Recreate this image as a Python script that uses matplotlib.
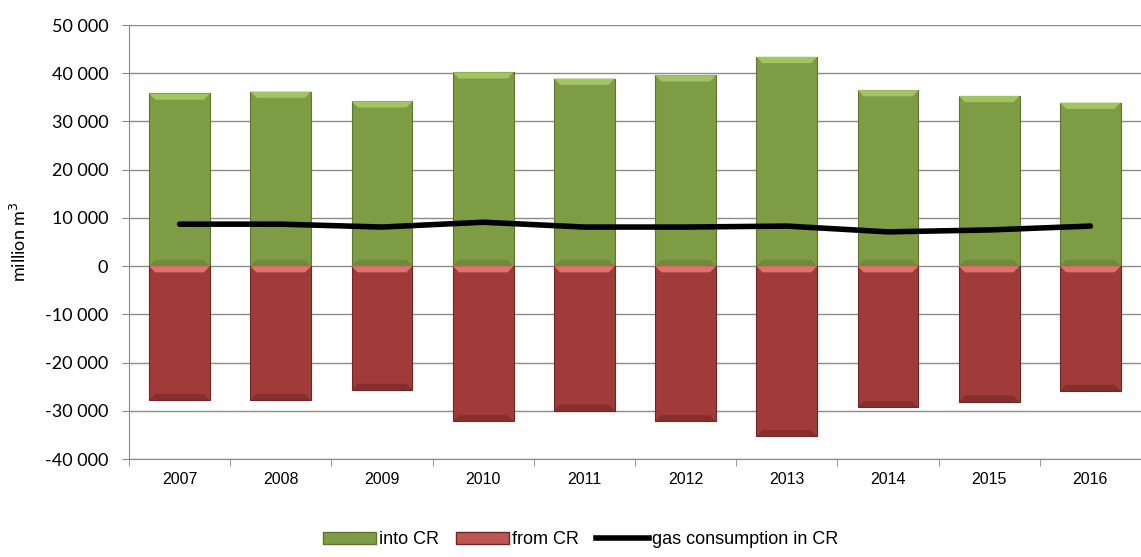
import matplotlib
matplotlib.use("Agg")
import matplotlib.pyplot as plt
from matplotlib.patches import Polygon, Patch
from matplotlib.lines import Line2D
import numpy as np

years = ["2007", "2008", "2009", "2010", "2011", "2012", "2013", "2014", "2015", "2016"]
into_cr = [35800, 36200, 34200, 40200, 38900, 39600, 43400, 36500, 35300, 33900]
from_cr = [-27800, -27800, -25700, -32200, -30000, -32200, -35300, -29300, -28200, -25900]
consumption = [8700, 8700, 8100, 9100, 8100, 8100, 8300, 7100, 7500, 8300]

GREEN = "#7E9C43"
RED = "#A03B3A"
NARROW = ["Liberation Sans Narrow", "Liberation Sans", "DejaVu Sans"]
YFONT = ["Lato", "DejaVu Sans"]


def bevel(ax, rects, light, dark):
    """Add a light strip on top and dark strip at bottom of each bar."""
    for r in rects:
        x0, w = r.get_x(), r.get_width()
        y0, h = r.get_y(), r.get_height()
        lo, hi = min(y0, y0 + h), max(y0, y0 + h)
        dx, dy = 0.06, 1300
        top = Polygon([(x0, hi), (x0 + w, hi), (x0 + w - dx, hi - dy), (x0 + dx, hi - dy)],
                      closed=True, facecolor=light, edgecolor="none", zorder=3)
        bot = Polygon([(x0, lo), (x0 + w, lo), (x0 + w - dx, lo + dy), (x0 + dx, lo + dy)],
                      closed=True, facecolor=dark, edgecolor="none", zorder=3)
        ax.add_patch(top)
        ax.add_patch(bot)


fig = plt.figure(figsize=(11.41, 5.57), dpi=100)
ax = fig.add_axes([129 / 1141, 1 - 459 / 557, 1 - 129 / 1141, (459 - 25) / 557])

x = np.arange(len(years))
g = ax.bar(x, into_cr, width=0.6, color=GREEN, edgecolor="#5E7530", linewidth=0.8, zorder=2)
r = ax.bar(x, from_cr, width=0.6, color=RED, edgecolor="#6E2625", linewidth=0.8, zorder=2)
bevel(ax, g, "#A3C463", "#6F8A3A")
bevel(ax, r, "#DC7371", "#832F2E")
ax.plot(x, consumption, color="black", linewidth=4, solid_capstyle="round", zorder=5)

ax.set_xlim(-0.5, len(years) - 0.5)
ax.set_ylim(-40000, 50000)
yt = np.arange(-40000, 50001, 10000)
ax.set_yticks(yt)
ax.set_yticklabels([f"{v:,}".replace(",", " ") for v in yt], fontfamily=YFONT, fontsize=13)
ax.set_xticks(x)
ax.set_xticklabels(years, fontfamily=NARROW, fontsize=11.5)
ax.set_xticks(np.arange(-0.5, len(years)), minor=True)
ax.tick_params(axis="x", which="major", length=0, pad=9)
ax.tick_params(axis="x", which="minor", length=5, color="#888888")
ax.tick_params(axis="y", length=5, color="#888888", pad=10)

ax.grid(axis="y", color="#8C8C8C", linewidth=1, zorder=0)
ax.set_axisbelow(True)
for s in ["top", "right"]:
    ax.spines[s].set_visible(False)
ax.spines["left"].set_color("#888888")
ax.spines["bottom"].set_color("#888888")

ax.set_ylabel("million m$^3$", fontfamily=YFONT, fontsize=13)
ax.yaxis.set_label_coords(-100 / 1012, 0.5)

handles = [Patch(facecolor=GREEN, edgecolor="#5E7530"),
           Patch(facecolor="#C05654", edgecolor="#6E2625"),
           Line2D([0], [0], color="black", linewidth=4)]
fig.legend(handles, ["into CR", "from CR", "gas consumption in CR"],
           loc="center", bbox_to_anchor=(581 / 1141, 1 - 540 / 557),
           ncol=3, frameon=False, prop={"family": NARROW, "size": 13},
           handlelength=2.9, handleheight=0.6, handletextpad=0.2, columnspacing=0.95)

fig.savefig("out.png", dpi=100)
